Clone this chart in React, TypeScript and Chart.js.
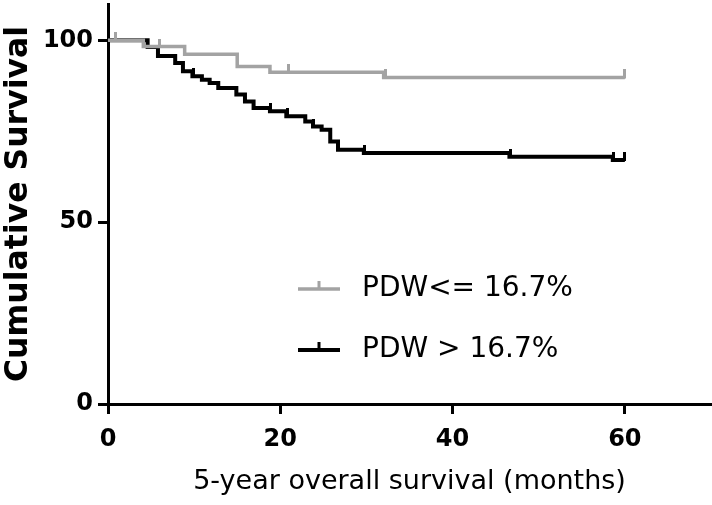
import React, { useEffect, useRef } from 'react';
import { Chart, registerables } from 'chart.js';

Chart.register(...registerables);

// ---- Data ----
const seriesLabels = ['PDW<= 16.7%', 'PDW > 16.7%'];

// PDW <= 16.7% : event times (months) and survival (%)
const lowTimes = [0, 4.1, 8.9, 15.0, 18.8, 32.0, 60];
const lowSurv = [100, 98.3, 96.2, 92.8, 91.2, 89.8, 89.8];
// censored observations
const lowCensorTimes = [0.9, 6.0, 20.9, 32.2, 60];
const lowCensorSurv = [100, 98.3, 91.2, 89.8, 89.8];

// PDW > 16.7%
const highTimes = [0, 4.6, 5.8, 7.8, 8.7, 9.8, 10.9, 11.8, 12.8, 14.9, 15.9, 16.9, 18.8, 20.7, 22.9, 23.8, 24.8, 25.8, 26.7, 29.7, 46.6, 58.6, 60];
const highSurv = [100, 98.2, 95.7, 93.8, 91.5, 90.1, 89.2, 88.3, 86.9, 85.1, 83.2, 81.4, 80.5, 79.1, 77.7, 76.3, 75.4, 72.2, 69.9, 69.0, 68.0, 67.1, 67.1];
const highCensorTimes = [9.9, 18.9, 20.8, 23.9, 29.8, 46.7, 58.7, 60];
const highCensorSurv = [90.1, 80.5, 79.1, 76.3, 69.0, 68.0, 67.1, 67.1];

const xTickValues = [0, 20, 40, 60];
const yTickValues = [0, 50, 100];

const xTitle = '5-year overall survival (months)';
const yTitle = 'Cumulative Survival';

const GRAY = '#a3a3a3';
const BLACK = '#000000';

function toPoints(xs: number[], ys: number[]) {
  return xs.map((x, i) => ({ x, y: ys[i] }));
}

function makeTick(color: string, w: number, h: number) {
  const c = document.createElement('canvas');
  c.width = w;
  c.height = h * 2;
  const g = c.getContext('2d')!;
  g.fillStyle = color;
  g.fillRect(0, 0, w, h + 1);
  return c;
}

const legendPlugin = {
  id: 'kmLegend',
  afterDraw(chart: any) {
    const ctx = chart.ctx as CanvasRenderingContext2D;
    const ys = [289, 350];
    const widths = [3.5, 4];
    [0, 1].forEach((i) => {
      const ds = chart.data.datasets[i];
      const y = ys[i];
      ctx.save();
      ctx.strokeStyle = ds.borderColor;
      ctx.lineWidth = widths[i];
      ctx.lineCap = 'butt';
      ctx.beginPath();
      ctx.moveTo(298, y);
      ctx.lineTo(340, y);
      ctx.stroke();
      ctx.beginPath();
      ctx.lineWidth = 3;
      ctx.moveTo(319, y);
      ctx.lineTo(319, y - 8);
      ctx.stroke();
      ctx.fillStyle = '#000';
      ctx.font = '28px "DejaVu Sans"';
      ctx.textBaseline = 'middle';
      ctx.textAlign = 'left';
      ctx.fillText(ds.label, 362, y);
      ctx.restore();
    });
  },
};

export default function App() {
  const ref = useRef<HTMLCanvasElement | null>(null);

  useEffect(() => {
    document.body.style.margin = '0';
    const canvas = ref.current!;
    const grayTick = makeTick(GRAY, 3, 8);
    const blackTick = makeTick(BLACK, 3, 8);

    const chart = new Chart(canvas, {
      type: 'line',
      data: {
        datasets: [
          {
            label: seriesLabels[0],
            data: toPoints(lowTimes, lowSurv),
            borderColor: GRAY,
            backgroundColor: GRAY,
            borderWidth: 3.5,
            stepped: true,
            pointRadius: 0,
            fill: false,
            order: 1,
          },
          {
            label: seriesLabels[1],
            data: toPoints(highTimes, highSurv),
            borderColor: BLACK,
            backgroundColor: BLACK,
            borderWidth: 4,
            stepped: true,
            pointRadius: 0,
            fill: false,
            order: 3,
          },
          {
            label: seriesLabels[0] + ' censored',
            data: toPoints(lowCensorTimes, lowCensorSurv),
            showLine: false,
            pointStyle: grayTick as any,
            pointRadius: 4,
            borderColor: GRAY,
            backgroundColor: GRAY,
            order: 0,
          },
          {
            label: seriesLabels[1] + ' censored',
            data: toPoints(highCensorTimes, highCensorSurv),
            showLine: false,
            pointStyle: blackTick as any,
            pointRadius: 4,
            borderColor: BLACK,
            backgroundColor: BLACK,
            order: 2,
          },
        ],
      },
      options: {
        responsive: false,
        animation: false,
        layout: { autoPadding: false, padding: { top: 4, right: 1, left: 0, bottom: 0 } },
        plugins: {
          legend: { display: false },
          tooltip: { enabled: false },
        },
        scales: {
          x: {
            type: 'linear',
            min: 0,
            max: 70,
            afterBuildTicks: (s: any) => {
              s.ticks = xTickValues.map((v) => ({ value: v }));
            },
            afterFit: (s: any) => {
              s.height = 101;
              s.paddingLeft = 0;
              s.paddingRight = 0;
            },
            ticks: {
              autoSkip: false,
              maxRotation: 0,
              color: '#000',
              padding: 11,
              font: { family: '"DejaVu Sans"', size: 24, weight: 'bold' },
            },
            grid: {
              drawOnChartArea: false,
              drawTicks: true,
              tickLength: 10,
              tickWidth: 3,
              tickColor: '#000',
              color: '#000',
            },
            border: { display: true, color: '#000', width: 3 },
            title: {
              display: true,
              text: xTitle,
              color: '#000',
              font: { family: '"DejaVu Sans"', size: 27, weight: 'normal' },
              padding: { top: 0, bottom: 7 },
            },
          },
          y: {
            type: 'linear',
            min: 0,
            max: 110,
            afterBuildTicks: (s: any) => {
              s.ticks = yTickValues.map((v) => ({ value: v }));
            },
            afterFit: (s: any) => {
              s.width = 108;
              s.paddingTop = 0;
              s.paddingBottom = 0;
            },
            ticks: {
              color: '#000',
              padding: 5,
              font: { family: '"DejaVu Sans"', size: 24, weight: 'bold' },
            },
            grid: {
              drawOnChartArea: false,
              drawTicks: true,
              tickLength: 10,
              tickWidth: 3,
              tickColor: '#000',
              color: '#000',
            },
            border: { display: true, color: '#000', width: 3 },
            title: {
              display: true,
              text: yTitle,
              color: '#000',
              font: { family: '"DejaVu Sans"', size: 31.5, weight: 'bold' },
              padding: { top: 0, bottom: 0 },
            },
          },
        },
      },
      plugins: [legendPlugin],
    });
    return () => chart.destroy();
  }, []);

  return (
    <div style={{ width: 712, height: 505 }}>
      <canvas ref={ref} width={712} height={505} style={{ display: 'block' }} />
    </div>
  );
}
